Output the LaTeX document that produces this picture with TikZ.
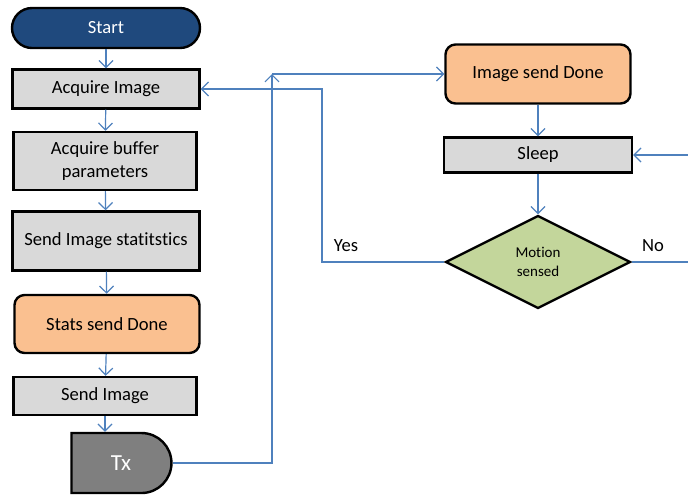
\documentclass[tikz,border=0pt]{standalone}
\usepackage{fontspec}
\setmainfont{Carlito}[Ligatures = CommonOff]
\usetikzlibrary{arrows.meta,shapes.geometric,shapes.misc}

\definecolor{startblue}{RGB}{31,73,125}
\definecolor{boxgray}{RGB}{217,217,217}
\definecolor{doneorange}{RGB}{250,192,144}
\definecolor{decgreen}{RGB}{195,214,155}
\definecolor{txgray}{RGB}{127,127,127}
\definecolor{flowblue}{RGB}{79,129,189}

\tikzset{
	block/.style = {draw, line width = 1.2pt, fill = boxgray, font = \fontsize{9.3}{11.5}\selectfont, align = center, inner sep = 2pt},
	donebox/.style = {block, fill = doneorange, rounded corners = 5pt},
	flow/.style = {draw = flowblue, line width = 0.6pt, -{Straight Barb[length = 3.5pt, width = 7pt]}},
	flowline/.style = {draw = flowblue, line width = 0.6pt}
}

\begin{document}
\begin{tikzpicture}[x = 0.5pt, y = -0.5pt]
	%	frame
	\useasboundingbox (0, 0) rectangle (688, 495);
	
	%	left column
	\node[block, fill = startblue, text = white, rounded corners = 10pt, minimum width = 94pt, minimum height = 20pt] (start) at (106, 28) {Start};
	\node[block, minimum width = 93.5pt, minimum height = 19.5pt] (acq) at (106, 89) {Acquire Image};
	\node[block, minimum width = 91.5pt, minimum height = 29pt] (buffer) at (105, 161) {Acquire buffer\\parameters};
	\node[block, minimum width = 93.5pt, minimum height = 29.5pt] (stats) at (106, 241) {Send Image statitstics};
	\node[donebox, minimum width = 92.5pt, minimum height = 29pt] (statsdone) at (107, 324) {Stats send Done};
	\node[block, minimum width = 91.5pt, minimum height = 19pt] (sendimg) at (105, 396) {Send Image};
	\node[block, rounded rectangle, rounded rectangle left arc = none, fill = txgray, text = white, font = \fontsize{11.5}{13}\selectfont, minimum width = 54pt, minimum height = 30pt, text width = 36pt] (tx) at (121, 463) {Tx};
	
	%	right column
	\node[donebox, minimum width = 92.5pt, minimum height = 29.5pt] (imgdone) at (538, 74) {Image send Done};
	\node[block, minimum width = 94pt, minimum height = 17.5pt] (sleep) at (538, 155) {Sleep};
	\node[block, diamond, aspect = 2, fill = decgreen, font = \fontsize{7.5}{9.5}\selectfont, minimum width = 92.5pt, minimum height = 46.5pt, inner sep = 0pt] (motion) at (538, 262) {Motion\\sensed};
	
	%	turning points
	\coordinate (txturn) at (272, 74);
	\coordinate (yesturn) at (322, 89);
	\coordinate (noend) at (688, 262);
	\coordinate (sleepin) at (688, 155);
	
	%	arrows
	\draw[flow] (start) -- (acq);
	\draw[flow] (acq) -- (buffer);
	\draw[flow] (buffer) -- (stats);
	\draw[flow] (stats) -- (statsdone);
	\draw[flow] (statsdone) -- (sendimg);
	\draw[flow] (sendimg) -- (sendimg |- tx.north);
	\draw[flow] (tx.east) -| (txturn);
	\draw[flow] (txturn) -- (imgdone.west);
	\draw[flow] (imgdone) -- (sleep);
	\draw[flow] (sleep) -- (motion);
	\draw[flow] (motion.west) -| (yesturn) -- (acq.east);
	\draw[flowline] (motion.east) -- (noend);
	\draw[flow] (sleepin) -- (sleep.east);
	
	%	labels
	\node[font = \fontsize{9.3}{11.5}\selectfont] (yes) at (346, 246) {Yes};
	\node[font = \fontsize{9.3}{11.5}\selectfont] (no) at (653, 246) {No};
\end{tikzpicture}
\end{document}
